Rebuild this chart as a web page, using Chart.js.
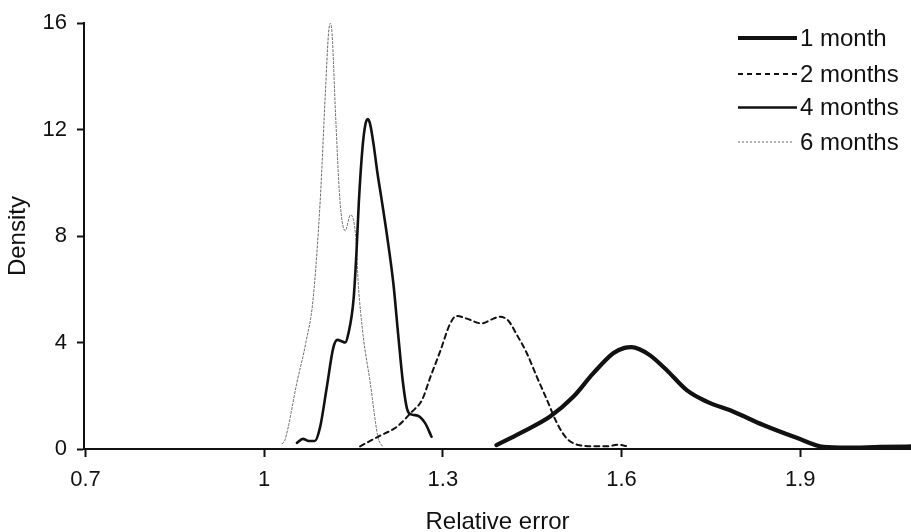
<!DOCTYPE html>
<html>
<head>
<meta charset="utf-8">
<script src="https://cdn.jsdelivr.net/npm/chart.js@4/dist/chart.umd.min.js"></script>
<style>
  html, body { margin: 0; padding: 0; background: #fff; overflow: hidden; }
  canvas { display: block; }
</style>
</head>
<body>
<canvas id="c" width="911" height="532"></canvas>
<script>
// ---- Data ----
const seriesNames = ['1 month', '2 months', '4 months', '6 months'];
const xTicks = [0.7, 1, 1.3, 1.6, 1.9];
const yTicks = [0, 4, 8, 12, 16];

const month1X = [1.39, 1.43, 1.48, 1.519, 1.552, 1.586, 1.605, 1.617, 1.63, 1.648, 1.676, 1.71, 1.743, 1.788, 1.838, 1.894, 1.939, 1.978, 2.034, 2.1];
const month1Y = [0.15, 0.6, 1.22, 1.96, 2.83, 3.6, 3.8, 3.83, 3.75, 3.52, 2.96, 2.2, 1.78, 1.4, 0.9, 0.42, 0.08, 0.05, 0.08, 0.1];

const month2X = [1.161, 1.191, 1.223, 1.248, 1.265, 1.279, 1.296, 1.312, 1.323, 1.34, 1.365, 1.385, 1.396, 1.41, 1.424, 1.441, 1.458, 1.475, 1.491, 1.508, 1.53, 1.56, 1.575, 1.595, 1.61];
const month2Y = [0.1, 0.46, 0.84, 1.4, 1.84, 2.7, 3.7, 4.7, 5.0, 4.9, 4.72, 4.9, 4.97, 4.82, 4.3, 3.6, 2.7, 1.84, 1.0, 0.4, 0.14, 0.1, 0.1, 0.16, 0.1];

const month4X = [1.055, 1.065, 1.075, 1.085, 1.094, 1.105, 1.116, 1.123, 1.13, 1.136, 1.141, 1.15, 1.155, 1.159, 1.165, 1.17, 1.174, 1.178, 1.184, 1.19, 1.197, 1.206, 1.217, 1.225, 1.233, 1.24, 1.247, 1.258, 1.27, 1.281];
const month4Y = [0.23, 0.38, 0.3, 0.3, 0.83, 2.3, 3.8, 4.1, 4.05, 4.0, 4.3, 5.6, 7.4, 9.3, 11.3, 12.2, 12.4, 12.2, 11.4, 10.4, 9.4, 8.06, 6.2, 4.3, 2.5, 1.5, 1.3, 1.25, 0.98, 0.46];

const month6X = [1.03, 1.035, 1.055, 1.07, 1.082, 1.094, 1.103, 1.108, 1.111, 1.114, 1.12, 1.127, 1.136, 1.145, 1.154, 1.158, 1.166, 1.178, 1.191, 1.2];
const month6Y = [0.2, 0.35, 2.5, 4.0, 5.6, 9.3, 13.5, 15.6, 16.0, 15.6, 12.5, 9.4, 8.2, 8.8, 7.9, 6.2, 4.3, 2.5, 0.46, 0.05];

function pts(xs, ys) { return xs.map((x, i) => ({ x: x, y: ys[i] })); }

const FONT = 'Liberation Sans, Arial, sans-serif';

const styles = [
  { borderColor: '#111', borderWidth: 4.2, borderDash: [] },
  { borderColor: '#111', borderWidth: 2, borderDash: [5, 4] },
  { borderColor: '#111', borderWidth: 2.6, borderDash: [] },
  { borderColor: '#666', borderWidth: 1, borderDash: [2, 2] }
];
const seriesData = [pts(month1X, month1Y), pts(month2X, month2Y), pts(month4X, month4Y), pts(month6X, month6Y)];

const datasets = seriesNames.map((name, i) => Object.assign({
  label: name,
  data: seriesData[i],
  pointRadius: 0,
  fill: false,
  cubicInterpolationMode: 'monotone',
  borderCapStyle: 'round',
  borderJoinStyle: 'round'
}, styles[i]));

const legendPlugin = {
  id: 'customLegend',
  afterDraw(chart) {
    const ctx = chart.ctx;
    const rows = [38, 74, 107.5, 142];
    ctx.save();
    ctx.font = '24px ' + FONT;
    ctx.fillStyle = '#111';
    ctx.textBaseline = 'middle';
    chart.data.datasets.forEach((ds, i) => {
      const y = rows[i];
      ctx.beginPath();
      ctx.strokeStyle = ds.borderColor;
      ctx.lineWidth = ds.borderWidth;
      ctx.setLineDash(ds.borderDash || []);
      ctx.moveTo(738, y);
      ctx.lineTo(i === 3 ? 792 : 797, y);
      ctx.stroke();
      ctx.setLineDash([]);
      ctx.fillText(ds.label, 800, y + 1);
    });
    ctx.restore();
  }
};

new Chart(document.getElementById('c'), {
  type: 'line',
  data: { datasets: datasets },
  plugins: [legendPlugin],
  options: {
    responsive: false,
    animation: false,
    devicePixelRatio: 1,
    layout: { padding: { top: 20, right: 0, left: 0, bottom: 0 } },
    plugins: { legend: { display: false }, tooltip: { enabled: false } },
    scales: {
      x: {
        type: 'linear',
        min: 0.6975,
        max: 2.086,
        afterBuildTicks(axis) { axis.ticks = xTicks.map(v => ({ value: v })); },
        afterFit(scale) { scale.height = 83; },
        grid: { drawOnChartArea: false, drawTicks: true, tickLength: 8, tickColor: '#111', tickWidth: 2 },
        border: { display: true, color: '#111', width: 2 },
        ticks: { color: '#111', font: { family: FONT, size: 22 }, padding: 10, maxRotation: 0, autoSkip: false,
                  callback: v => String(v) },
        title: { display: true, text: 'Relative error', color: '#111', font: { family: FONT, size: 24, lineHeight: 0.8 }, padding: { top: 0, bottom: 0 } }
      },
      y: {
        min: 0,
        max: 16,
        afterBuildTicks(axis) { axis.ticks = yTicks.map(v => ({ value: v })); },
        afterFit(scale) { scale.width = 84; },
        grid: { drawOnChartArea: false, drawTicks: true, tickLength: 7, tickColor: '#111', tickWidth: 2 },
        border: { display: true, color: '#111', width: 2 },
        ticks: { color: '#111', font: { family: FONT, size: 22 }, padding: 10 },
        title: { display: true, text: 'Density', color: '#111', font: { family: FONT, size: 24, lineHeight: 1.2 }, padding: { top: 4, bottom: 0 } }
      }
    }
  }
});
</script>
</body>
</html>
